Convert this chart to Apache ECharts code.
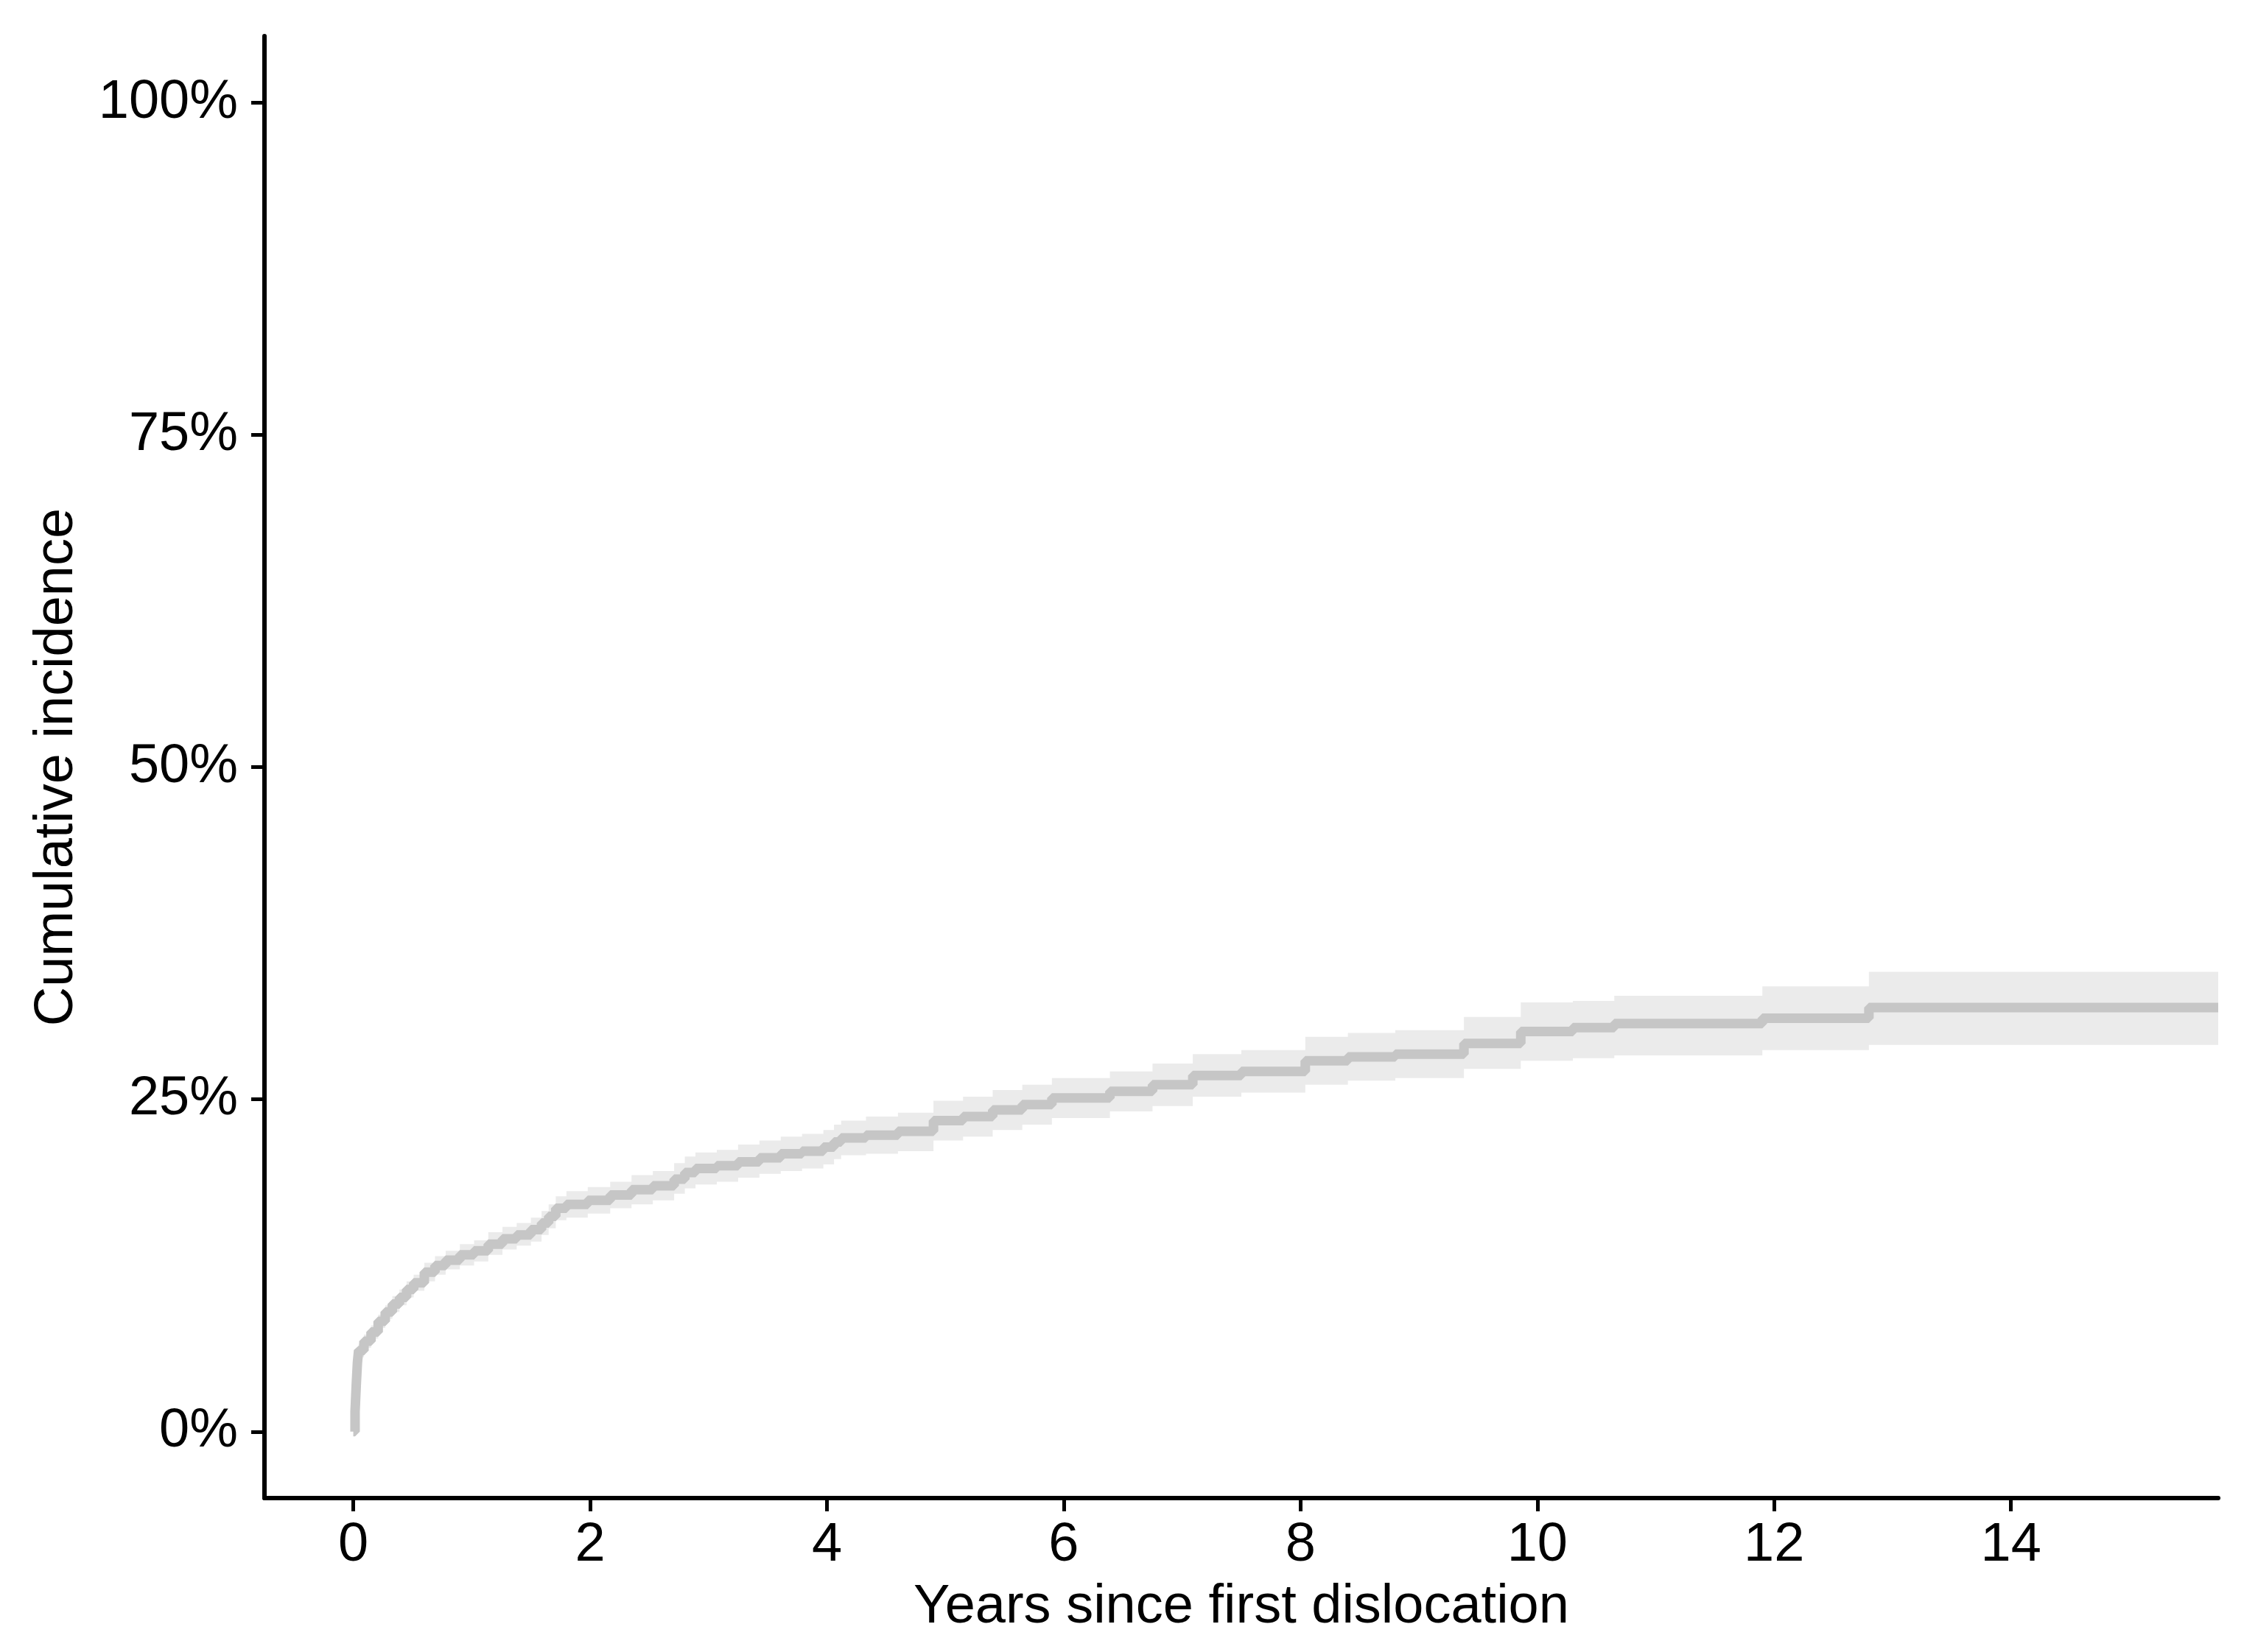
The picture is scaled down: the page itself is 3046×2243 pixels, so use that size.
<!DOCTYPE html>
<html>
<head>
<meta charset="utf-8">
<title>Cumulative incidence</title>
<script src="https://cdn.jsdelivr.net/npm/echarts@6/dist/echarts.min.js"></script>
<style>
  html, body { margin: 0; padding: 0; background: #fff; }
  #chart { width: 3046px; height: 2243px; }
</style>
</head>
<body>
<div id="chart"></div>
<script>
// step points of the cumulative incidence curve (years, %)
const years = [0, 0.015, 0.025, 0.035, 0.045, 0.09, 0.15, 0.21, 0.27, 0.33, 0.39, 0.45, 0.51, 0.60, 0.69, 0.78, 0.90, 1.02, 1.14, 1.26, 1.38, 1.50, 1.59, 1.65, 1.71, 1.80, 1.98, 2.17, 2.35, 2.53, 2.71, 2.80, 2.89, 3.07, 3.25, 3.43, 3.61, 3.79, 3.97, 4.06, 4.12, 4.33, 4.60, 4.90, 5.15, 5.40, 5.65, 5.90, 6.39, 6.75, 7.09, 7.50, 8.04, 8.40, 8.80, 9.38, 9.86, 10.30, 10.65, 11.90, 12.80, 15.75]
const estimate = [0, 1.5, 3.5, 5.2, 6.1, 6.8, 7.5, 8.3, 9.0, 9.6, 10.1, 10.7, 11.2, 12.0, 12.5, 12.9, 13.3, 13.6, 14.1, 14.5, 14.8, 15.2, 15.7, 16.2, 16.8, 17.1, 17.4, 17.8, 18.2, 18.5, 19.0, 19.5, 19.8, 20.0, 20.3, 20.6, 20.9, 21.1, 21.4, 21.8, 22.1, 22.3, 22.6, 23.4, 23.7, 24.2, 24.6, 25.1, 25.6, 26.1, 26.8, 27.1, 27.9, 28.2, 28.4, 29.2, 30.1, 30.4, 30.7, 31.1, 31.9, 31.9]
// confidence band
const lower = [0, 1.3, 3.1, 4.8, 5.6, 6.3, 7.0, 7.8, 8.5, 9.0, 9.5, 10.1, 10.6, 11.3, 11.8, 12.2, 12.5, 12.8, 13.3, 13.7, 14.0, 14.3, 14.8, 15.3, 15.9, 16.1, 16.4, 16.8, 17.1, 17.4, 17.9, 18.3, 18.6, 18.8, 19.1, 19.4, 19.6, 19.8, 20.1, 20.5, 20.8, 20.9, 21.1, 21.9, 22.2, 22.7, 23.1, 23.6, 24.1, 24.5, 25.2, 25.5, 26.1, 26.4, 26.6, 27.3, 27.9, 28.1, 28.3, 28.7, 29.1, 29.1]
const upper = [0, 1.7, 3.9, 5.6, 6.6, 7.3, 8.0, 8.8, 9.5, 10.2, 10.7, 11.3, 11.8, 12.7, 13.2, 13.6, 14.1, 14.4, 15.0, 15.4, 15.7, 16.1, 16.6, 17.1, 17.7, 18.1, 18.4, 18.8, 19.3, 19.6, 20.2, 20.7, 21.0, 21.2, 21.6, 21.9, 22.2, 22.4, 22.7, 23.1, 23.4, 23.7, 24.0, 24.9, 25.2, 25.7, 26.1, 26.6, 27.1, 27.7, 28.4, 28.7, 29.7, 30.0, 30.2, 31.2, 32.3, 32.4, 32.8, 33.5, 34.6, 34.6]

// tick labels
const xTicks = [0, 2, 4, 6, 8, 10, 12, 14]
const yTicks = [0, 25, 50, 75, 100]

const font = 'Liberation Sans, Arial, Helvetica, sans-serif'
const axisLine = { show: true, onZero: false, lineStyle: { color: '#000', width: 6 } }
const axisTick = { show: true, length: 18, lineStyle: { color: '#000', width: 5 } }

const chart = echarts.init(document.getElementById('chart'))
chart.setOption({
  animation: false,
  backgroundColor: '#fff',
  grid: { left: 359, right: 35, top: 49, bottom: 209 },
  xAxis: {
    type: 'value',
    min: -0.75,
    max: 15.75,
    name: 'Years since first dislocation',
    nameLocation: 'middle',
    nameGap: 112,
    nameTextStyle: { color: '#000', fontSize: 74, fontFamily: font },
    axisLine: axisLine,
    axisTick: Object.assign({ customValues: xTicks }, axisTick),
    axisLabel: { customValues: xTicks, color: '#000', fontSize: 74, fontFamily: font, margin: 28 },
    splitLine: { show: false }
  },
  yAxis: {
    type: 'value',
    min: -5,
    max: 105,
    name: 'Cumulative incidence',
    nameLocation: 'middle',
    nameGap: 244,
    nameTextStyle: { color: '#000', fontSize: 74, fontFamily: font },
    axisLine: axisLine,
    axisTick: Object.assign({ customValues: yTicks }, axisTick),
    axisLabel: {
      customValues: yTicks,
      color: '#000',
      fontSize: 74,
      fontFamily: font,
      margin: 36,
      formatter: v => v + '%'
    },
    splitLine: { show: false }
  },
  series: [
    {
      // stepped confidence band
      name: 'band',
      type: 'custom',
      data: [[0, 0]],
      z: 1,
      renderItem: (params, api) => {
        const top = []
        const bottom = []
        for (let i = 0; i < years.length - 1; i++) {
          top.push(api.coord([years[i], upper[i]]), api.coord([years[i + 1], upper[i]]))
          bottom.push(api.coord([years[i], lower[i]]), api.coord([years[i + 1], lower[i]]))
        }
        return {
          type: 'polygon',
          shape: { points: top.concat(bottom.reverse()) },
          style: { fill: '#EBEBEB' }
        }
      }
    },
    {
      name: 'estimate',
      type: 'line',
      step: 'end',
      symbol: 'none',
      lineStyle: { color: '#C6C6C6', width: 13 },
      data: years.map((t, i) => [t, estimate[i]]),
      z: 2
    }
  ]
})
</script>
</body>
</html>
